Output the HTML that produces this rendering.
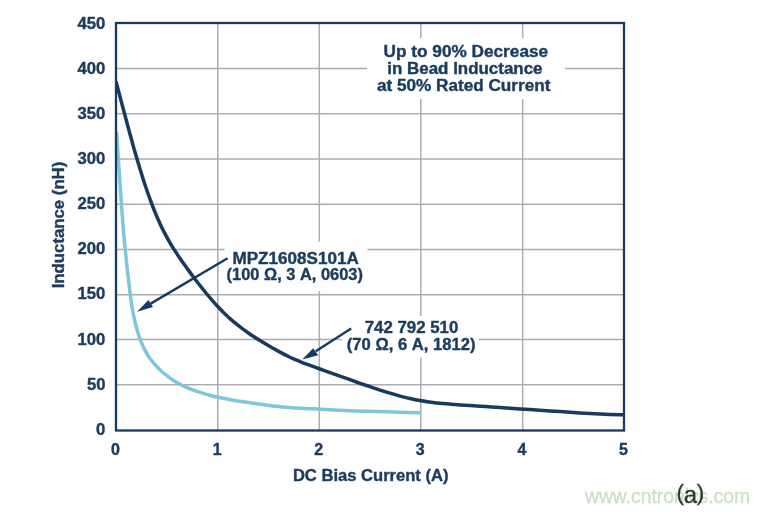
<!DOCTYPE html>
<html>
<head>
<meta charset="utf-8">
<style>
html,body{margin:0;padding:0;background:#fff;}
body{width:769px;height:512px;overflow:hidden;position:relative;}
svg{position:absolute;left:0;top:0;display:block;}
text{font-family:"Liberation Sans",sans-serif;}
.b{font-weight:bold;fill:#1b3c5e;stroke:#1b3c5e;stroke-width:0.4;stroke-linejoin:round;}
</style>
</head>
<body>
<svg width="769" height="512" viewBox="0 0 769 512">
<rect x="0" y="0" width="769" height="512" fill="#ffffff"/>
<g stroke="#acadb4" stroke-width="1.5" fill="none">
<path d="M217.8 23V430.5M319.3 23V430.5M420.8 23V430.5M522.7 23V430.5"/>
<path d="M116 384.8H624M116 339.55H624M116 294.8H624M116 249.5H624M116 204.2H624M116 158.9H624M116 113.75H624M116 68.4H624"/>
</g>
<rect x="367" y="38" width="198" height="61" fill="#fff"/>
<rect x="224.7" y="241.6" width="142.8" height="49.6" fill="#fff"/>
<rect x="341.5" y="316" width="137" height="41.5" fill="#fff"/>
<clipPath id="cp"><rect x="115" y="22" width="510" height="410"/></clipPath>
<g clip-path="url(#cp)">
<path d="M116.5 131.5C116.6 133.8 117.1 140.4 117.4 144.8C117.7 149.2 118.0 153.6 118.3 158.0C118.6 162.4 118.9 166.8 119.2 171.2C119.5 175.7 119.8 180.1 120.1 184.5C120.4 188.9 120.7 193.3 121.0 197.7C121.3 202.1 121.6 206.5 121.9 210.9C122.3 215.3 122.6 219.7 122.9 224.1C123.3 228.4 123.6 232.8 124.0 237.1C124.4 241.4 124.8 245.7 125.3 250.0C125.7 254.3 126.2 258.5 126.6 262.8C127.1 267.1 127.5 271.3 128.0 275.5C128.5 279.8 129.0 284.0 129.5 288.2C130.0 292.4 130.5 296.6 131.1 300.7C131.7 304.8 132.4 308.9 133.1 312.9C133.9 316.8 135.0 321.7 135.7 324.5C136.3 327.2 136.5 327.6 136.9 329.2C137.3 330.7 137.8 332.3 138.3 333.8C138.7 335.3 139.2 336.8 139.8 338.2C140.3 339.7 140.8 341.1 141.4 342.5C142.0 344.0 142.6 345.3 143.2 346.7C143.8 348.1 144.5 349.4 145.2 350.7C145.9 352.0 146.6 353.2 147.4 354.5C148.1 355.7 148.9 356.9 149.7 358.0C150.5 359.2 151.4 360.3 152.3 361.4C153.2 362.6 154.1 363.6 155.0 364.7C155.9 365.7 156.9 366.8 157.9 367.8C158.9 368.8 159.9 369.7 160.9 370.7C161.9 371.6 163.0 372.6 164.1 373.5C165.2 374.4 166.3 375.3 167.4 376.1C168.5 377.0 169.7 377.8 170.8 378.6C172.0 379.4 173.2 380.2 174.4 381.0C175.6 381.7 176.9 382.5 178.2 383.2C179.4 383.9 180.7 384.6 182.0 385.3C183.4 385.9 183.7 386.2 186.1 387.2C188.4 388.2 191.6 389.7 196.2 391.2C200.8 392.7 207.5 394.8 213.5 396.3C219.5 397.7 225.8 398.9 232.1 400.0C238.5 401.2 245.0 402.0 251.5 403.0C258.0 403.9 264.4 405.0 271.1 405.8C277.8 406.6 284.7 407.2 291.6 407.7C298.6 408.2 305.8 408.4 312.8 408.8C319.9 409.2 327.0 409.6 334.1 409.9C341.2 410.2 348.3 410.6 355.5 410.9C362.7 411.1 370.0 411.3 377.2 411.5C384.5 411.7 391.7 412.0 399.0 412.2C406.2 412.4 417.2 412.6 420.8 412.7" fill="none" stroke="#7cc7d9" stroke-width="3.5" stroke-linejoin="round"/>
<path d="M116.0 81.4C117.0 85.2 120.0 96.7 122.0 104.3C124.0 111.8 126.0 119.4 128.0 126.8C130.0 134.2 132.0 141.6 134.0 148.7C136.0 155.7 138.0 162.5 140.0 169.1C142.0 175.6 144.0 181.9 146.0 187.8C148.0 193.7 150.0 199.3 152.0 204.5C154.0 209.8 156.0 214.7 158.0 219.2C160.0 223.8 162.0 228.0 164.0 231.9C166.0 235.8 168.0 239.3 170.0 242.8C172.0 246.2 174.0 249.3 176.0 252.4C178.0 255.5 180.0 258.4 182.0 261.3C184.0 264.1 186.0 266.9 188.0 269.6C190.0 272.4 192.0 275.1 194.0 277.7C196.0 280.4 198.0 283.0 200.0 285.5C202.0 288.1 204.0 290.6 206.0 293.0C208.0 295.4 210.0 297.8 212.0 300.1C214.0 302.4 216.0 304.7 218.0 306.8C220.0 308.9 222.0 311.0 224.0 313.0C226.0 314.9 228.0 316.8 230.0 318.6C232.0 320.4 234.0 322.1 236.0 323.7C238.0 325.4 240.0 326.9 242.0 328.4C244.0 329.9 246.0 331.3 248.0 332.7C250.0 334.1 252.0 335.5 254.0 336.8C256.0 338.1 257.3 338.9 260.0 340.5C262.7 342.2 266.7 344.6 270.0 346.5C273.3 348.4 276.7 350.3 280.0 352.1C283.3 353.9 286.7 355.6 290.0 357.2C293.3 358.8 296.7 360.2 300.0 361.6C303.3 363.0 306.7 364.2 310.0 365.4C313.3 366.6 316.7 367.8 320.0 369.0C323.3 370.2 326.7 371.4 330.0 372.6C333.3 373.8 336.7 375.0 340.0 376.2C343.3 377.4 346.7 378.5 350.0 379.7C353.3 380.9 356.7 382.1 360.0 383.3C363.3 384.4 366.7 385.6 370.0 386.7C373.3 387.9 376.7 389.0 380.0 390.1C383.3 391.2 386.7 392.2 390.0 393.2C393.3 394.2 396.7 395.2 400.0 396.1C403.3 396.9 406.7 397.8 410.0 398.5C413.3 399.2 416.7 399.9 420.0 400.5C423.3 401.1 426.7 401.6 430.0 402.1C433.3 402.5 435.0 402.8 440.0 403.3C445.0 403.8 453.3 404.4 460.0 404.9C466.7 405.4 473.3 405.8 480.0 406.3C486.7 406.7 493.3 407.1 500.0 407.6C506.7 408.0 513.3 408.5 520.0 408.9C526.7 409.4 533.3 409.8 540.0 410.3C546.7 410.7 553.3 411.2 560.0 411.6C566.7 412.0 573.3 412.5 580.0 412.9C586.7 413.3 593.3 413.6 600.0 414.0C606.7 414.3 616.0 414.6 620.0 414.7C624.0 414.9 623.3 414.8 624.0 414.8" fill="none" stroke="#173a5e" stroke-width="3.5" stroke-linejoin="round"/>
</g>
<rect x="116" y="23" width="508" height="407.5" fill="none" stroke="#173a5e" stroke-width="2.3"/>
<g stroke="#173a5e" stroke-width="2.4">
<line x1="227.6" y1="258.3" x2="150.7" y2="303.6"/>
<line x1="351.2" y1="328.5" x2="315.7" y2="351.2"/>
</g>
<polygon points="137.1,311.7 148.4,300 153,307" fill="#173a5e"/>
<polygon points="302.2,359.6 313.3,348.2 318.2,355.2" fill="#173a5e"/>
<g class="b" font-size="16" text-anchor="end">
<text x="105.4" y="28.7" textLength="27.8" lengthAdjust="spacingAndGlyphs">450</text>
<text x="105.4" y="73.8" textLength="27.8" lengthAdjust="spacingAndGlyphs">400</text>
<text x="105.4" y="118.9" textLength="27.8" lengthAdjust="spacingAndGlyphs">350</text>
<text x="105.4" y="164.1" textLength="27.8" lengthAdjust="spacingAndGlyphs">300</text>
<text x="105.4" y="209.2" textLength="27.8" lengthAdjust="spacingAndGlyphs">250</text>
<text x="105.4" y="254.3" textLength="27.8" lengthAdjust="spacingAndGlyphs">200</text>
<text x="105.4" y="299.4" textLength="27.8" lengthAdjust="spacingAndGlyphs">150</text>
<text x="105.4" y="344.5" textLength="27.8" lengthAdjust="spacingAndGlyphs">100</text>
<text x="105.4" y="389.7" textLength="18.5" lengthAdjust="spacingAndGlyphs">50</text>
<text x="105.4" y="434.8" textLength="9.3" lengthAdjust="spacingAndGlyphs">0</text>
</g>
<g class="b" font-size="16" text-anchor="middle">
<text x="115.5" y="454.7">0</text>
<text x="217.1" y="454.7">1</text>
<text x="318.7" y="454.7">2</text>
<text x="420.3" y="454.7">3</text>
<text x="521.9" y="454.7">4</text>
<text x="623.5" y="454.7">5</text>
</g>
<text class="b" font-size="16" x="292.9" y="480.8" textLength="155.6" lengthAdjust="spacingAndGlyphs">DC Bias Current (A)</text>
<text class="b" font-size="16" transform="translate(64 288.3) rotate(-90)" textLength="126.6" lengthAdjust="spacingAndGlyphs">Inductance (nH)</text>
<g class="b" font-size="16" lengthAdjust="spacingAndGlyphs">
<text x="383.6" y="57.3" textLength="164.5" lengthAdjust="spacingAndGlyphs">Up to 90% Decrease</text>
<text x="387.3" y="73.9" textLength="155.2" lengthAdjust="spacingAndGlyphs">in Bead Inductance</text>
<text x="377" y="90.6" textLength="173.4" lengthAdjust="spacingAndGlyphs">at 50% Rated Current</text>
<text x="232.4" y="264.2" textLength="126.4" lengthAdjust="spacingAndGlyphs">MPZ1608S101A</text>
<text x="226.6" y="280.4" textLength="136.3" lengthAdjust="spacingAndGlyphs">(100 Ω, 3 A, 0603)</text>
<text x="364.7" y="332.6" textLength="93.6" lengthAdjust="spacingAndGlyphs">742 792 510</text>
<text x="346.8" y="349.9" textLength="128.7" lengthAdjust="spacingAndGlyphs">(70 Ω, 6 A, 1812)</text>
</g>
<text font-size="22.3" x="676.6" y="502.6" fill="#2e3a30" stroke="#2e3a30" stroke-width="0.3"><tspan dy="-2.4">(</tspan><tspan dy="2.6" dx="-0.3" font-size="24">a</tspan><tspan dy="-2.6" dx="-0.3">)</tspan></text>
<text font-size="20.5" x="585" y="502.9" textLength="165" lengthAdjust="spacingAndGlyphs" fill="#cde0c6" stroke="#cde0c6" stroke-width="0.35" style="mix-blend-mode:multiply">www.cntronics.com</text>
</svg>
</body>
</html>
